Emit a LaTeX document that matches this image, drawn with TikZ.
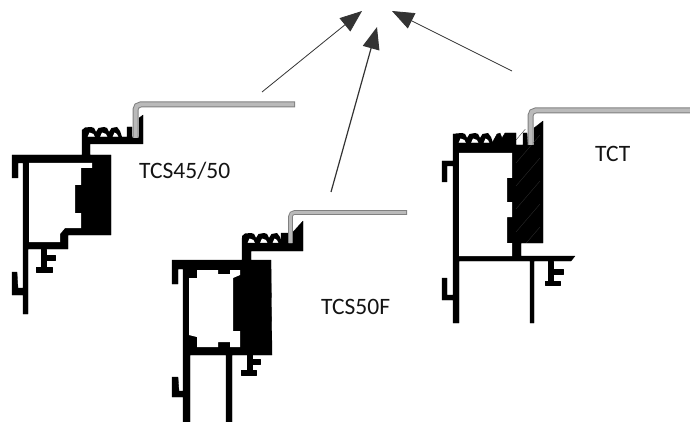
\documentclass[tikz,border=0pt]{standalone}
\usepackage{fontspec}
\setmainfont{Carlito}
\usetikzlibrary{arrows.meta}
\tikzset{
  profile/.style={fill=black,draw=black,line width=0.3pt,line join=round},
  hollow/.style={fill=white,draw=none},
  sheetedge/.style={draw=black!50,line cap=butt,rounded corners=5pt},
  sheetcore/.style={draw=black!27,line cap=butt,rounded corners=5pt},
  pointer/.style={draw=black!80,line width=0.8pt,-{Triangle[length=22pt,width=17pt,fill=black!80]}},
  caption/.style={font=\fontsize{23.5}{26}\selectfont,text=black!92,inner sep=0pt,anchor=west}
}
\newcommand{\hookrow}{%
  \fill[black] (0,0)--(0,-7)--(3,-9.5)--(9,-10)--(12,-9)--(14,-5)--(16.5,-9)--(22,-10)--(25,-9)--(27,-5)--(29.5,-9)--(35,-10)--(38,-6)--(40,0)--cycle;
  \fill[white] (5.5,0.1)--(7.5,-4.5)--(11.5,-3)--(13,0.1)--cycle;
  \fill[white] (18,0.1)--(20,-4.5)--(24,-3)--(25.5,0.1)--cycle;
  \fill[white] (30.5,0.1)--(32.5,-4.5)--(35,-3)--(36.5,0.1)--cycle;
}
\begin{document}
\begin{tikzpicture}[x=1pt,y=-1pt]
\useasboundingbox (0,0) rectangle (690,422);
% TCS45/50
\begin{scope}[shift={(82,137)}]\hookrow\end{scope}
\fill[profile] (12,155)--(82,155)--(82,130)--(85,130)--(85,137)--(127,137)--(127,127)--(132,127)--(132,137)--(139,137)--(139,118)--(143,115)--(143,144)--(90,144)--(90,155)--(111,155)--(111,235)--(68,235)--(68,249)--(28,249)--(28,314)--(23,314)--(23,295)--(12,295)--(12,272)--(17,272)--(18,288)--(23,288)--(23,163)--(18,163)--(18,178)--(12,178)--cycle;
\fill[hollow] (29,163)--(92,163)--(92,168)--(81,168)--(81,185)--(75,185)--(75,213)--(81,213)--(81,228)--(65,228)--(60,234)--(60,242)--(29,242)--cycle;
\fill[profile] (41.5,249)--(46,249)--(46,255)--(55,255)--(55,260)--(46,260)--(46,267)--(52,267)--(52,272)--(36,272)--(36,267)--(41.5,267)--cycle;
\draw[sheetedge,line width=6pt] (135.5,138)--(135.5,104.5)--(295,104.5);
\draw[sheetcore,line width=4pt] (135.5,138)--(135.5,104.5)--(294,104.5);
% TCS50F
\begin{scope}[shift={(242,243)}]\hookrow\end{scope}
\fill[profile] (172,260)--(242,260)--(242,238)--(246,238)--(246,243)--(281,243)--(281,233)--(288,233)--(288,243)--(293,243)--(293,232)--(303,221)--(303,251)--(251,251)--(251,260)--(271,260)--(272,355)--(232,355)--(232,422)--(226,422)--(226,355)--(190,355)--(190,422)--(183,422)--(183,397)--(172,397)--(172,377)--(178,377)--(179,391)--(183,391)--(183,269)--(178,269)--(178,284)--(172,284)--cycle;
\fill[hollow] (197,270)--(197,278)--(189,278)--(189,335)--(197,337)--(197,347)--(218,347)--(218,342)--(230,342)--(230,347)--(240,347)--(240,331)--(233,331)--(233,278)--(240,275)--(240,270)--(230,270)--(230,274)--(218,274)--(218,270)--cycle;
\fill[profile] (247,354)--(252,354)--(252,359)--(260,359)--(260,364)--(252,364)--(252,370)--(256,370)--(256,375)--(241,375)--(241,370)--(247,370)--cycle;
\draw[sheetedge,line width=4.6pt,rounded corners=4pt] (290.5,243)--(290.5,212.5)--(407,212.5);
\draw[sheetcore,line width=2.8pt,rounded corners=4pt] (290.5,243)--(290.5,212.5)--(406,212.5);
% TCT
\begin{scope}[shift={(453,143)}]\hookrow\end{scope}
\fill[profile] (453,161)--(453,134)--(456,134)--(456,143)--(492,143)--(497,134)--(500,133)--(502,138)--(505,133)--(516,133)--(516,145)--(523,145)--(523,133)--(527,133)--(528,145)--(534,145)--(534,128)--(543,121)--(543,243)--(521,243)--(521,256)--(575,256)--(571,261)--(534,261)--(534,323)--(530,323)--(530,261)--(459,261)--(459,323)--(453,323)--(453,300)--(442,300)--(442,278)--(447,278)--(447,295)--(453,295)--(453,166)--(447,166)--(447,182)--(442,182)--(442,161)--cycle;
\fill[hollow] (459,153)--(512,153)--(512,178)--(507,178)--(507,202)--(512,202)--(512,217)--(507,217)--(507,243)--(512,243)--(512,256)--(459,256)--cycle;
\begin{scope}
  \clip (513,130) rectangle (542.5,242);
  \foreach \k in {0,23,...,115}
    \draw[black!82,line width=0.35pt] (516,140+\k)--(540,112+\k);
\end{scope}
\fill[profile] (548,261)--(553,261)--(553,269)--(563,269)--(563,274)--(553,274)--(553,281)--(560,281)--(560,285)--(545,285)--(545,281)--(548,281)--cycle;
\draw[sheetedge,line width=6pt] (530.5,145)--(530.5,110.5)--(690,110.5);
\draw[sheetcore,line width=4pt] (530.5,145)--(530.5,110.5)--(690,110.5);
% labels
\node[caption] (lblA) at (139,171) {TCS45/50};
\node[caption] (lblB) at (321,307) {TCS50F};
\node[caption] (lblC) at (595,154) {TCT};
% arrows
\coordinate (fromA) at (262,92);
\coordinate (toA) at (362,11);
\coordinate (fromB) at (331,192);
\coordinate (toB) at (377,27);
\coordinate (fromC) at (512,71);
\coordinate (toC) at (392,11);
\draw[pointer] (fromA)--(toA);
\draw[pointer,line width=1.2pt] (fromB)--(toB);
\draw[pointer] (fromC)--(toC);
\end{tikzpicture}
\end{document}
